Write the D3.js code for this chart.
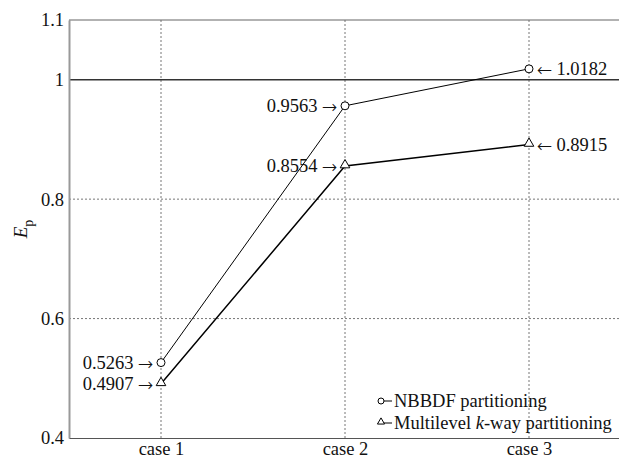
<!DOCTYPE html>
<html>
<head>
<meta charset="utf-8">
<script src="https://cdn.jsdelivr.net/npm/d3@7"></script>
<style>
  body { margin: 0; background: #fff; }
</style>
</head>
<body>
<svg id="chart"></svg>
<script>
var width = 619;
var height = 459;

var cases = ['case 1', 'case 2', 'case 3'];
var nbbdf = [0.5263, 0.9563, 1.0182];
var multilevel = [0.4907, 0.8554, 0.8915];
var yTicks = [0.4, 0.6, 0.8, 1, 1.1];
var seriesNames = ['NBBDF partitioning', 'Multilevel k-way partitioning'];

var serif = "'Liberation Serif'";
var arrowFont = "'FreeSerif', 'DejaVu Serif', serif";
var fs = '18.5px';

var mLeft = 69, mRight = 621, mTop = 20, mBottom = 438;

var xScale = d3.scaleLinear()
        .domain([0.5, 3.5])
        .range([mLeft, mRight]);

var yScale = d3.scaleLinear()
        .domain([0.4, 1.1])
        .range([mBottom, mTop]);

var svg = d3.select('#chart')
        .attr('width', width)
        .attr('height', height);

// dotted grid
svg.append('g')
  .selectAll('line')
  .data(cases)
  .enter()
  .append('line')
    .attr('x1', (d, i) => xScale(i + 1))
    .attr('x2', (d, i) => xScale(i + 1))
    .attr('y1', mTop)
    .attr('y2', mBottom)
    .attr('stroke', '#777')
    .attr('stroke-width', 1)
    .attr('stroke-dasharray', '2,2');

svg.append('g')
  .selectAll('line')
  .data([0.6, 0.8])
  .enter()
  .append('line')
    .attr('x1', mLeft)
    .attr('x2', mRight)
    .attr('y1', d => yScale(d))
    .attr('y2', d => yScale(d))
    .attr('stroke', '#777')
    .attr('stroke-width', 1)
    .attr('stroke-dasharray', '2,2');

// reference line at 1
svg.append('line')
    .attr('x1', mLeft).attr('x2', mRight)
    .attr('y1', yScale(1)).attr('y2', yScale(1))
    .attr('stroke', '#333')
    .attr('stroke-width', 1.5);

// axes
var yAxis = d3.axisLeft(yScale)
    .tickValues(yTicks)
    .tickSize(0)
    .tickPadding(5)
    .tickFormat(d => String(+d.toFixed(1)));

var gy = svg.append('g')
    .attr('transform', 'translate(' + mLeft + ',0)')
    .call(yAxis);
gy.select('.domain').attr('stroke', '#999').attr('stroke-width', 2);
gy.selectAll('text')
    .style('font-family', serif)
    .style('font-size', fs)
    .attr('fill', '#111');

var xAxis = d3.axisBottom(xScale)
    .tickValues([1, 2, 3])
    .tickSize(0)
    .tickPadding(4)
    .tickFormat((d, i) => cases[i]);

var gx = svg.append('g')
    .attr('transform', 'translate(0,' + mBottom + ')')
    .call(xAxis);
gx.select('.domain').attr('stroke', '#555').attr('stroke-width', 1.2);
gx.selectAll('text')
    .style('font-family', serif)
    .style('font-size', fs)
    .attr('fill', '#111');

// top border
svg.append('line')
    .attr('x1', mLeft).attr('x2', mRight)
    .attr('y1', mTop).attr('y2', mTop)
    .attr('stroke', '#666')
    .attr('stroke-width', 1.2);

// y label
var yl = svg.append('text')
    .attr('transform', 'translate(27,' + ((mTop + mBottom) / 2) + ') rotate(-90)')
    .attr('text-anchor', 'middle')
    .style('font-family', serif)
    .style('font-size', '19px')
    .attr('fill', '#111');
yl.append('tspan').style('font-style', 'italic').text('E');
yl.append('tspan').style('font-size', '14px').attr('dy', 6).text('p');

// lines
var line = d3.line()
    .x((d, i) => xScale(i + 1))
    .y(d => yScale(d));

svg.append('path')
    .datum(nbbdf)
    .attr('d', line)
    .attr('fill', 'none')
    .attr('stroke', '#000')
    .attr('stroke-width', 1);

svg.append('path')
    .datum(multilevel)
    .attr('d', line)
    .attr('fill', 'none')
    .attr('stroke', '#000')
    .attr('stroke-width', 1.5);

// markers
svg.append('g')
  .selectAll('circle')
  .data(nbbdf)
  .enter()
  .append('circle')
    .attr('cx', (d, i) => xScale(i + 1))
    .attr('cy', d => yScale(d))
    .attr('r', 4)
    .attr('fill', '#fff')
    .attr('stroke', '#000')
    .attr('stroke-width', 1);

var tri = d3.symbol().type(d3.symbolTriangle).size(40);
svg.append('g')
  .selectAll('path')
  .data(multilevel)
  .enter()
  .append('path')
    .attr('d', tri)
    .attr('transform', (d, i) => 'translate(' + xScale(i + 1) + ',' + (yScale(d) - 1) + ')')
    .attr('fill', '#fff')
    .attr('stroke', '#000')
    .attr('stroke-width', 1);

// value annotations
function annotate(vals) {
  var t = svg.append('g')
    .selectAll('text')
    .data(vals)
    .enter()
    .append('text')
      .attr('x', (d, i) => i < 2 ? xScale(i + 1) - 8 : xScale(i + 1) + 8)
      .attr('y', d => yScale(d))
      .attr('dy', '0.33em')
      .attr('text-anchor', (d, i) => i < 2 ? 'end' : 'start')
      .style('font-family', serif)
      .style('font-size', fs)
      .attr('fill', '#111');
  t.filter((d, i) => i < 2).each(function(d) {
    var s = d3.select(this);
    s.append('tspan').text(d3.format('.4f')(d) + ' ');
    s.append('tspan').style('font-family', arrowFont).text('\u2192');
  });
  t.filter((d, i) => i === 2).each(function(d) {
    var s = d3.select(this);
    s.append('tspan').style('font-family', arrowFont).text('\u2190');
    s.append('tspan').text(' ' + d3.format('.4f')(d));
  });
}
annotate(nbbdf);
annotate(multilevel);

// legend
var lx = 378, ly = [401, 423];
var lg = svg.append('g');
lg.selectAll('line')
  .data(seriesNames)
  .enter()
  .append('line')
    .attr('x1', lx).attr('x2', lx + 14)
    .attr('y1', (d, i) => ly[i]).attr('y2', (d, i) => ly[i])
    .attr('stroke', '#000')
    .attr('stroke-width', 1);
lg.append('circle')
    .attr('cx', lx + 3).attr('cy', ly[0]).attr('r', 3)
    .attr('fill', '#fff').attr('stroke', '#000');
lg.append('path')
    .attr('d', d3.symbol().type(d3.symbolTriangle).size(22))
    .attr('transform', 'translate(' + (lx + 3) + ',' + (ly[1] - 1) + ')')
    .attr('fill', '#fff').attr('stroke', '#000');
lg.append('text')
    .attr('x', lx + 16).attr('y', ly[0]).attr('dy', '0.33em')
    .style('font-family', serif)
    .style('font-size', fs)
    .attr('fill', '#111')
    .text(seriesNames[0]);
var t2 = lg.append('text')
    .attr('x', lx + 16).attr('y', ly[1]).attr('dy', '0.33em')
    .style('font-family', serif)
    .style('font-size', fs)
    .attr('fill', '#111');
t2.append('tspan').text('Multilevel ');
t2.append('tspan').style('font-style', 'italic').text('k');
t2.append('tspan').text('-way partitioning');
</script>
</body>
</html>
